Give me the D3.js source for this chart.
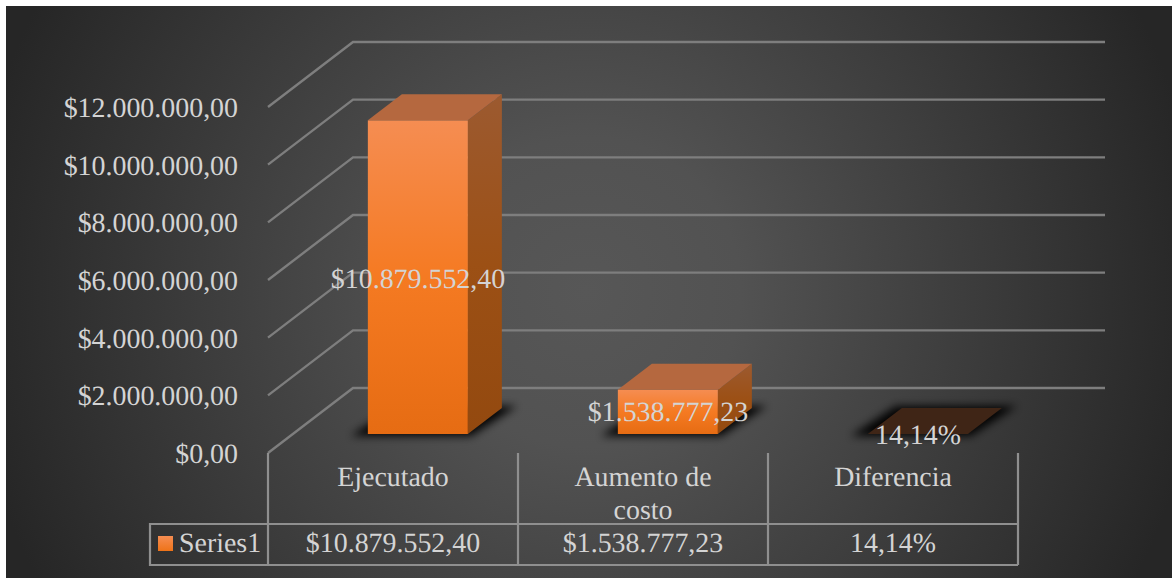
<!DOCTYPE html>
<html><head><meta charset="utf-8">
<script src="https://cdn.jsdelivr.net/npm/d3@7/dist/d3.min.js"></script>
<style>html,body{margin:0;padding:0;background:#fff}svg{display:block}text{font-family:"Liberation Serif","Times New Roman",serif;font-size:27.9px;fill:#d4d4d4;text-rendering:geometricPrecision}</style>
</head><body><div id="chart"></div>
<script>
const categories = ["Ejecutado","Aumento de costo","Diferencia"];
const categoryLines = [["Ejecutado"],["Aumento de","costo"],["Diferencia"]];
const values = [10879552.40,1538777.23,0.1414];
const isPercent = [false,false,true];
const seriesName = "Series1";
const tickValues = [0,2e6,4e6,6e6,8e6,10e6,12e6];

const W=1172,H=578;
const svg=d3.select("#chart").append("svg").attr("width",W).attr("height",H);
const defs=svg.append("defs");
const loc=d3.formatLocale({decimal:",",thousands:".",grouping:[3],currency:["$",""]});
const fmtMoney=loc.format("$,.2f"), fmtPct=loc.format(".2%");
const fmt=(v,i)=>isPercent[i]?fmtPct(v):fmtMoney(v);

const bg=defs.append("radialGradient").attr("id","bg").attr("gradientUnits","userSpaceOnUse")
 .attr("cx",586).attr("cy",292).attr("r",620);
bg.append("stop").attr("offset",0).attr("stop-color","#575757");
bg.append("stop").attr("offset",0.25).attr("stop-color","#525252");
bg.append("stop").attr("offset",1).attr("stop-color","#262626");
const gf=defs.append("linearGradient").attr("id","front").attr("x1",0).attr("y1",0).attr("x2",0).attr("y2",1);
gf.append("stop").attr("offset",0).attr("stop-color","#f58d52");
gf.append("stop").attr("offset",0.5).attr("stop-color","#f57a22");
gf.append("stop").attr("offset",1).attr("stop-color","#e66c13");
const gs=defs.append("linearGradient").attr("id","side").attr("x1",0).attr("y1",0).attr("x2",0).attr("y2",1);
gs.append("stop").attr("offset",0).attr("stop-color","#9c5a30");
gs.append("stop").attr("offset",0.5).attr("stop-color","#9c5015");
gs.append("stop").attr("offset",1).attr("stop-color","#93490f");
const blur=defs.append("filter").attr("id","blur").attr("x","-30%").attr("y","-60%").attr("width","160%").attr("height","220%");
blur.append("feGaussianBlur").attr("stdDeviation",4.5);

svg.append("rect").attr("x",6).attr("y",6).attr("width",W-6).attr("height",H-6).attr("fill","url(#bg)");

const x=d3.scaleBand().domain(categories).range([268,1018]).paddingInner(0).paddingOuter(0);
const y=d3.scaleLinear().domain([0,12e6]).range([453,107]);
const depthX=85,depthY=-65;
const wallRight=1105;
const P=(px,py,t)=>[px+depthX*t,py+depthY*t];
const path=pts=>"M"+pts.map(p=>p.join(",")).join("L")+"Z";

const grid=svg.append("g").attr("fill","none").attr("stroke","#7e7e7e").attr("stroke-width",2.4);
tickValues.forEach(v=>{
  const a=[268,y(v)], b=P(268,y(v),1);
  grid.append("path").attr("d",`M${a}L${b}L${wallRight},${b[1]}`);
});

const yAxis=d3.axisLeft(y).tickValues(tickValues).tickFormat(fmtMoney).tickSize(0).tickPadding(30);
const ag=svg.append("g").attr("transform","translate(268,0.5)").call(yAxis);
ag.select(".domain").remove();
ag.selectAll("text").attr("fill",null);
ag.attr("font-family",null).attr("font-size",null);

const t0=19/65, t1=45/65;
const barW=100;
const bars=svg.append("g");
const baseShift=P(0,0,t0);
const topColors=["#b5683f","#b5683f","#3f2516"];
values.forEach((v,i)=>{
  const c=categories[i];
  const xL=x(c)+75+baseShift[0], xR=xL+barW;
  const yB=y(0)+baseShift[1];
  const yT=yB-(y(0)-y(isPercent[i]?0:v));
  const dx=depthX*(t1-t0), dy=depthY*(t1-t0);
  const g=bars.append("g");
  g.append("path").attr("d",path([[xL-17,yB+2],[xR+3,yB+2],[xR+dx+15,yB+dy-2],[xL+dx-6,yB+dy-2]]))
    .attr("fill","#000").attr("opacity",0.95).attr("filter","url(#blur)");
  if(yB-yT>1){
    g.append("path").attr("d",path([[xR,yT],[xR+dx,yT+dy],[xR+dx,yB+dy],[xR,yB]])).attr("fill","url(#side)");
    g.append("rect").attr("x",xL).attr("y",yT).attr("width",barW).attr("height",yB-yT).attr("fill","url(#front)");
  }
  g.append("path").attr("d",path([[xL,yT],[xR,yT],[xR+dx,yT+dy],[xL+dx,yT+dy]])).attr("fill",topColors[i]);
});

const tableTop=524,tableBottom=565,legendLeft=150;
const tl=svg.append("g").attr("stroke","#8f8f8f").attr("stroke-width",2.2).attr("fill","none");
[...categories.map(c=>x(c)),x.range()[1]].forEach(px=>tl.append("line").attr("x1",px).attr("x2",px).attr("y1",y(0)).attr("y2",tableBottom));
tl.append("path").attr("d",`M${x.range()[1]},${tableTop}H${legendLeft}V${tableBottom}H${x.range()[1]}`);

categories.forEach((c,i)=>{
  const cx=x(c)+x.bandwidth()/2;
  categoryLines[i].forEach((ln,j)=>svg.append("text").attr("x",cx).attr("y",486+j*33).attr("text-anchor","middle").text(ln));
  svg.append("text").attr("x",cx).attr("y",552).attr("text-anchor","middle").text(fmt(values[i],i));
});

const lg=defs.append("linearGradient").attr("id","lg").attr("x1",0).attr("y1",0).attr("x2",0).attr("y2",1);
lg.append("stop").attr("offset",0).attr("stop-color","#f68d52");
lg.append("stop").attr("offset",1).attr("stop-color","#ee7318");
svg.append("rect").attr("x",158).attr("y",536).attr("width",15).attr("height",15).attr("fill","url(#lg)");
svg.append("text").attr("x",179).attr("y",552).text(seriesName);

const labelY=[288,421,444];
values.forEach((v,i)=>{
  svg.append("text").attr("x",x(categories[i])+150).attr("y",labelY[i]).attr("text-anchor","middle").text(fmt(v,i));
});
</script></body></html>
